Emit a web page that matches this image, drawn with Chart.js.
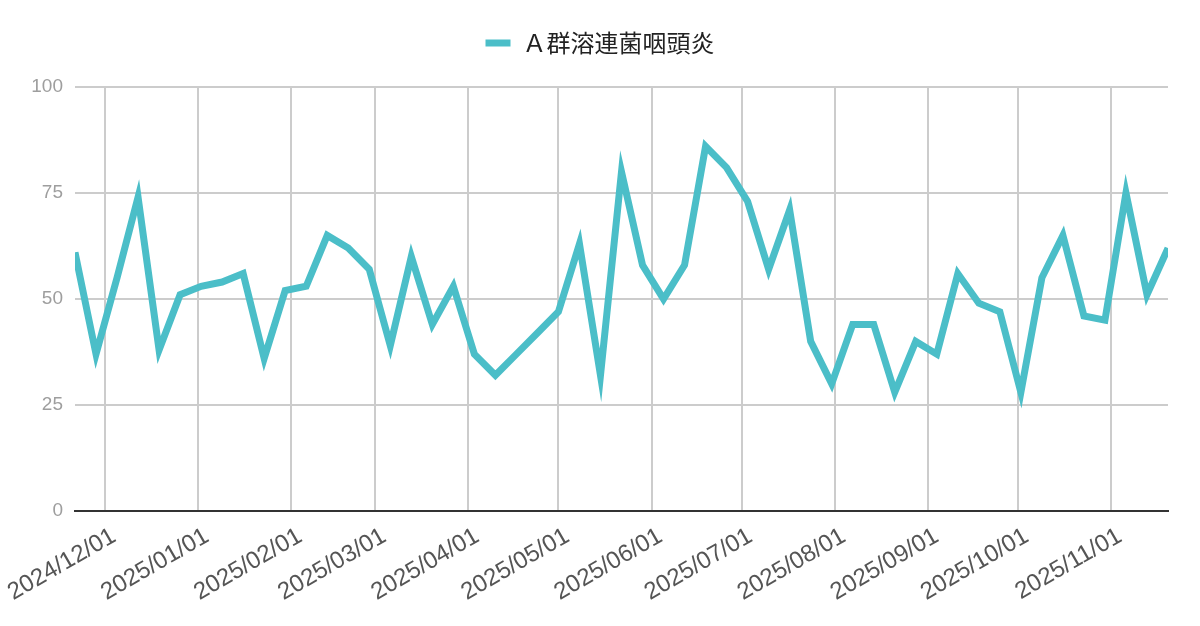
<!DOCTYPE html>
<html>
<head>
<meta charset="utf-8">
<script src="https://cdn.jsdelivr.net/npm/chart.js@4.4.1/dist/chart.umd.min.js"></script>
<style>
  html, body { margin: 0; padding: 0; background: #ffffff; }
  #wrap { width: 1200px; height: 626px; }
</style>
</head>
<body>
<div id="wrap"><canvas id="c" width="1200" height="626"></canvas></div>
<script>
// ---- data ----
const seriesLabel = 'Ａ群溶連菌咽頭炎';

const weekDates = [
  '2024/11/21','2024/11/28','2024/12/05','2024/12/12','2024/12/19','2024/12/26',
  '2025/01/02','2025/01/09','2025/01/16','2025/01/23','2025/01/30',
  '2025/02/06','2025/02/13','2025/02/20','2025/02/27',
  '2025/03/06','2025/03/13','2025/03/20','2025/03/27',
  '2025/04/03','2025/04/10','2025/04/17','2025/04/24',
  '2025/05/01','2025/05/08','2025/05/15','2025/05/22','2025/05/29',
  '2025/06/05','2025/06/12','2025/06/19','2025/06/26',
  '2025/07/03','2025/07/10','2025/07/17','2025/07/24','2025/07/31',
  '2025/08/07','2025/08/14','2025/08/21','2025/08/28',
  '2025/09/04','2025/09/11','2025/09/18','2025/09/25',
  '2025/10/02','2025/10/09','2025/10/16','2025/10/23','2025/10/30',
  '2025/11/06','2025/11/13','2025/11/20'
];

const weekValues = [
  61, 37, 55, 74, 38, 51,
  53, 54, 56, 36, 52,
  53, 65, 62, 57,
  39, 60, 44, 53,
  37, 32, 37, 42,
  47, 63, 32, 80, 58,
  50, 58, 86, 81,
  73, 57, 71, 40, 30,
  44, 44, 28, 40,
  37, 56, 49, 47,
  28, 55, 65, 46, 45,
  75, 51, 62
];

const monthTickLabels = [
  '2024/12/01','2025/01/01','2025/02/01','2025/03/01','2025/04/01','2025/05/01',
  '2025/06/01','2025/07/01','2025/08/01','2025/09/01','2025/10/01','2025/11/01'
];

const yTickValues = [0, 25, 50, 75, 100];

// ---- helpers ----
function toMs(s) {
  const p = s.split('/').map(Number);
  return Date.UTC(p[0], p[1] - 1, p[2]);
}
function fmt(ms) {
  const d = new Date(ms);
  const mm = String(d.getUTCMonth() + 1).padStart(2, '0');
  const dd = String(d.getUTCDate()).padStart(2, '0');
  return d.getUTCFullYear() + '/' + mm + '/' + dd;
}

const points = weekDates.map((d, i) => ({ x: toMs(d), y: weekValues[i] }));
const monthTickValues = monthTickLabels.map(toMs);

const LINE_COLOR = '#4BBEC8';

new Chart(document.getElementById('c'), {
  type: 'line',
  data: {
    datasets: [{
      label: seriesLabel,
      data: points,
      borderColor: LINE_COLOR,
      backgroundColor: LINE_COLOR,
      borderWidth: 7,
      pointRadius: 0,
      pointHoverRadius: 0,
      tension: 0,
      fill: false,
      borderJoinStyle: 'miter',
      xAxisID: 'x',
      yAxisID: 'y'
    }]
  },
  options: {
    responsive: false,
    animation: false,
    devicePixelRatio: 1,
    layout: { padding: { top: 16, left: 0, right: 0, bottom: 0 } },
    plugins: {
      tooltip: { enabled: false },
      legend: {
        display: true,
        position: 'top',
        align: 'center',
        labels: {
          boxWidth: 25,
          boxHeight: 7,
          padding: 15,
          color: '#222222',
          font: { family: '"Noto Sans CJK JP", "Noto Sans", sans-serif', size: 24 },
          generateLabels(chart) {
            const items = Chart.defaults.plugins.legend.labels.generateLabels(chart);
            items.forEach(it => { it.fillStyle = LINE_COLOR; it.strokeStyle = LINE_COLOR; it.lineWidth = 0; });
            return items;
          }
        }
      },
      title: {
        display: true,
        text: '',
        position: 'top',
        weight: 500,
        padding: 0,
        font: { size: 22, lineHeight: 1 }
      }
    },
    scales: {
      x: {
        type: 'linear',
        position: 'bottom',
        min: toMs(weekDates[0]),
        max: toMs(weekDates[weekDates.length - 1]),
        afterBuildTicks(scale) {
          scale.ticks = monthTickValues.map(v => ({ value: v }));
        },
        afterFit(scale) {
          scale.height = 115;
          scale.paddingLeft = 0;
          scale.paddingRight = 0;
        },
        grid: { color: '#cccccc', lineWidth: 2, drawTicks: false },
        border: { display: true, color: '#333333', width: 2 },
        ticks: {
          autoSkip: false,
          minRotation: 30,
          maxRotation: 30,
          padding: 11,
          labelOffset: 9,
          color: '#555555',
          font: { family: '"Liberation Sans", Arial, sans-serif', size: 24 },
          callback: (v) => fmt(v)
        }
      },
      y: {
        type: 'linear',
        position: 'left',
        min: 0,
        max: 100,
        afterBuildTicks(scale) {
          scale.ticks = yTickValues.map(v => ({ value: v }));
        },
        afterFit(scale) { scale.width = 75; },
        grid: { color: '#cccccc', lineWidth: 2, drawTicks: false },
        border: { display: false },
        ticks: {
          padding: 12,
          color: '#9e9e9e',
          font: { family: '"Liberation Sans", Arial, sans-serif', size: 19 }
        }
      },
      yR: {
        type: 'linear',
        position: 'right',
        display: true,
        grid: { display: false, drawTicks: false },
        border: { display: false },
        ticks: { display: false },
        afterFit(scale) { scale.width = 32; }
      }
    }
  }
});
</script>
</body>
</html>
